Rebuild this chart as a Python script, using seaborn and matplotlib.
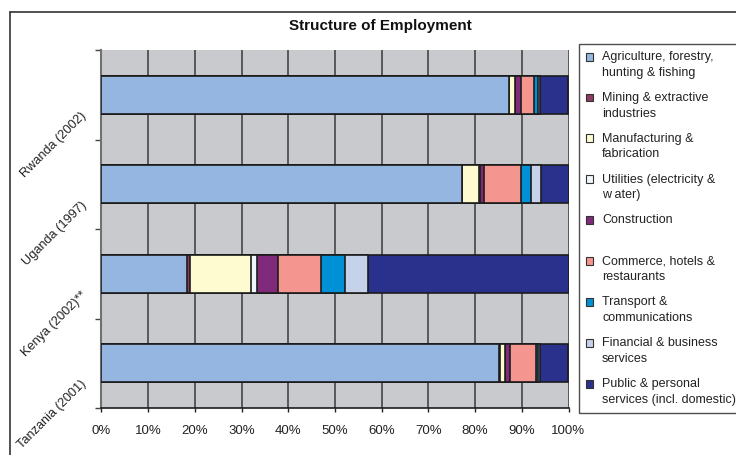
import numpy as np
import pandas as pd
import seaborn as sns
from matplotlib import pyplot as plt
from matplotlib.patches import Patch, Rectangle
from matplotlib.lines import Line2D
from matplotlib.legend_handler import HandlerPatch
from matplotlib.transforms import ScaledTranslation

countries = ['Rwanda (2002)', 'Uganda (1997)', 'Kenya (2002)**', 'Tanzania (2001)']

sectors = ['Agriculture, forestry,\nhunting & fishing',
           'Mining & extractive\nindustries',
           'Manufacturing &\nfabrication',
           'Utilities (electricity &\nw ater)',
           'Construction\n ',
           'Commerce, hotels &\nrestaurants',
           'Transport &\ncommunications',
           'Financial & business\nservices',
           'Public & personal\nservices (incl. domestic)']

agriculture = [87.2, 77.1, 18.4, 85.2]
mining = [0.1, 0.1, 0.5, 0.1]
manufacturing = [1.2, 3.7, 13.2, 1.1]
utilities = [0.1, 0.2, 1.2, 0.1]
construction = [1.3, 0.9, 4.6, 0.9]
commerce = [2.8, 7.8, 9.1, 5.6]
transport = [0.8, 2.1, 5.1, 0.5]
financial = [0.4, 2.2, 4.9, 0.4]
public = [6.1, 5.9, 43.0, 6.1]

colors = ['#95B6E0', '#8E3B63', '#FFFBD0', '#EEF6FB', '#7F2A7A',
          '#F4958F', '#0090D6', '#C6D2EA', '#29318D']

values = [agriculture, mining, manufacturing, utilities, construction,
          commerce, transport, financial, public]
df = pd.DataFrame(dict(zip(sectors, values)), index=countries)
cum = df.cumsum(axis=1)

sns.set_style('white')
plt.rcParams['font.family'] = ['Liberation Sans', 'DejaVu Sans']

fig = plt.figure(figsize=(7.36, 4.55), dpi=100)
ax = fig.add_axes([101.5 / 736, 47 / 455, 467 / 736, 358 / 455])
ax.set_facecolor('#C9CACE')

# draw cumulative bars from the last sector backwards so they stack
for sector, col in reversed(list(zip(sectors, colors))):
    sns.barplot(x=cum[sector].values, y=countries, color=col, saturation=1,
                width=0.43, edgecolor='#1c1c1c', linewidth=1.2, orient='h',
                ax=ax, zorder=3)

ax.set_xlim(0, 100)
ax.set_ylim(3.5, -0.5)
ax.set_xticks(np.arange(0, 101, 10))
ax.set_xticklabels([f'{v}%' for v in range(0, 101, 10)], fontsize=9.5, color='#222222')
ax.set_xlabel('')
ax.set_ylabel('')
ax.set_axisbelow(True)
ax.xaxis.grid(True, color='#3a3a3a', lw=1.1, zorder=0)
ax.yaxis.grid(False)
ax.tick_params(axis='x', bottom=True, length=3, width=1, color='#222222', pad=9)

ax.set_yticks([0, 1, 2, 3])
ax.set_yticklabels(countries, fontsize=9.2, rotation=45, ha='right', va='top', color='#222222')
ax.set_yticks([-0.5, 0.5, 1.5, 2.5, 3.5], minor=True)
ax.tick_params(axis='y', which='major', length=0, pad=9)
ax.tick_params(axis='y', which='minor', left=True, length=4, width=1, color='#444444')
shift = ScaledTranslation(0, -15 / 100, fig.dpi_scale_trans)
for lab in ax.get_yticklabels():
    lab.set_transform(lab.get_transform() + shift)

for side in ['top', 'right']:
    ax.spines[side].set_visible(False)
ax.spines['left'].set_color('#707070')
ax.spines['left'].set_linewidth(1.5)
ax.spines['bottom'].set_color('#1c1c1c')
ax.spines['bottom'].set_linewidth(1.2)

fig.text(380 / 736, 1 - 26 / 455, 'Structure of Employment', ha='center', va='center',
         fontsize=11, fontweight='bold', color='#111111')


def top_square(legend, orig_handle, xdescent, ydescent, width, height, fontsize):
    # put the little square beside the first line of the two-line label
    return Rectangle((-xdescent, -ydescent + 0.66 * fontsize), width, height)


handles = [Patch(facecolor=c, edgecolor='#333333', linewidth=0.8) for c in colors]
leg = fig.legend(handles, sectors, loc='upper left', bbox_to_anchor=(579 / 736, 1 - 44 / 455),
                 fontsize=9, frameon=True, fancybox=False, borderaxespad=0,
                 borderpad=0.55, handlelength=0.6, handleheight=0.6, handletextpad=0.7,
                 labelspacing=1.05,
                 handler_map={Patch: HandlerPatch(patch_func=top_square)})
leg.get_frame().set_edgecolor('#222222')
leg.get_frame().set_linewidth(1)
for t in leg.get_texts():
    t.set_color('#222222')
    t.set_linespacing(1.42)

# outer chart border (top and left edges are visible)
fig.add_artist(Line2D([10 / 736, 1], [1 - 12 / 455, 1 - 12 / 455], color='#333333', lw=1.2))
fig.add_artist(Line2D([10 / 736, 10 / 736], [0, 1 - 12 / 455], color='#333333', lw=1.2))

fig.savefig('out.png', dpi=100)
